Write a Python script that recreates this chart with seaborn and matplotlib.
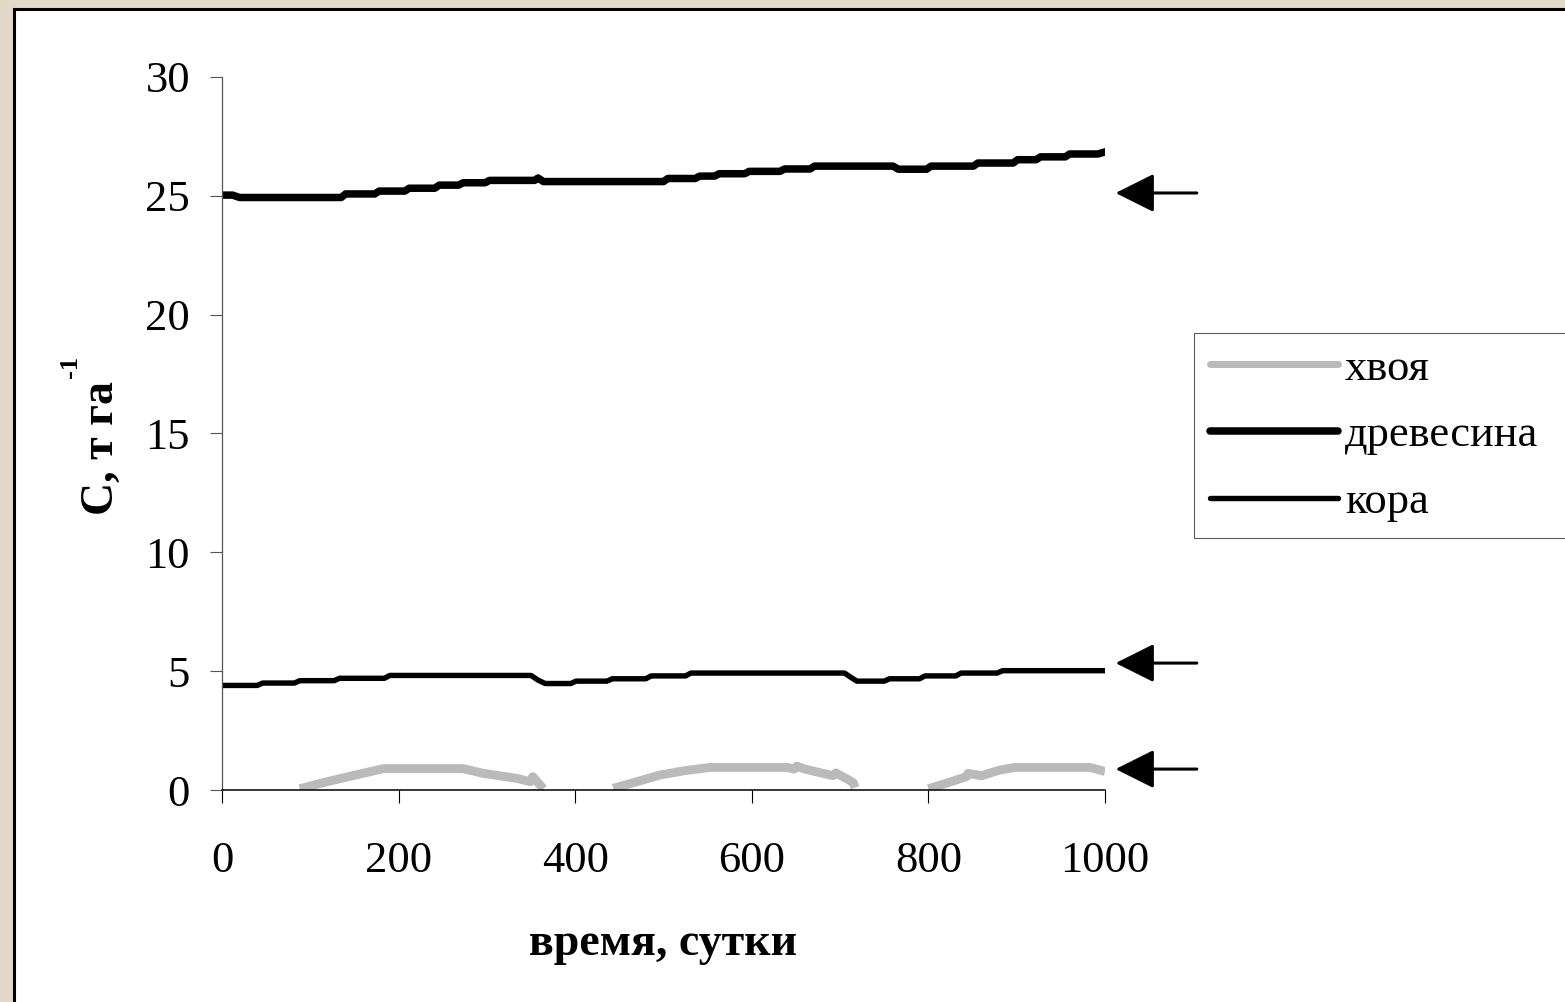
import numpy as np
import pandas as pd
import matplotlib
matplotlib.use('Agg')
import matplotlib.pyplot as plt
from matplotlib.lines import Line2D
from matplotlib.patches import Rectangle
import seaborn as sns

# wood (древесина), t/ha
wood_days = [0, 12, 20, 135, 140, 173, 178, 207, 212, 241, 246, 268, 273, 298, 303, 354, 358, 364,
             500, 505, 536, 541, 558, 563, 592, 597, 632, 637, 666, 671, 760, 766, 798, 803,
             851, 856, 896, 901, 922, 927, 955, 960, 992, 1000]
wood_vals = [25.03, 25.03, 24.93, 24.93, 25.08, 25.08, 25.2, 25.2, 25.32, 25.32, 25.45, 25.45, 25.55, 25.55,
             25.65, 25.65, 25.75, 25.6, 25.6, 25.73, 25.73, 25.83, 25.83, 25.93, 25.93, 26.03, 26.03, 26.13,
             26.13, 26.25, 26.25, 26.12, 26.12, 26.25, 26.25, 26.38, 26.38, 26.52, 26.52, 26.64, 26.64,
             26.76, 26.76, 26.85]

# bark (кора)
bark_days = [0, 40, 46, 82, 88, 127, 133, 184, 190, 350, 358, 366, 395, 401, 436, 442, 480, 486,
             525, 531, 705, 713, 719, 750, 756, 790, 796, 831, 837, 878, 884, 1000]
bark_vals = [4.4, 4.4, 4.5, 4.5, 4.6, 4.6, 4.7, 4.7, 4.82, 4.82, 4.62, 4.48, 4.48, 4.58, 4.58, 4.68,
             4.68, 4.8, 4.8, 4.92, 4.92, 4.72, 4.58, 4.58, 4.68, 4.68, 4.8, 4.8, 4.92, 4.92, 5.02, 5.02]

# needles (хвоя), three seasonal cycles
needle_days = [88, 119, 150, 183, 273, 296, 334, 349, 352, 358, 364,
               443, 470, 496, 525, 553, 640, 648, 651, 660, 692, 695, 710, 715, 717,
               800, 820, 843, 845, 860, 881, 898, 983, 1000]
needle_vals = [0.05, 0.35, 0.62, 0.9, 0.9, 0.7, 0.49, 0.35, 0.56, 0.3, 0.05,
               0.07, 0.35, 0.63, 0.82, 0.95, 0.95, 0.88, 1.0, 0.88, 0.6, 0.72, 0.42, 0.3, 0.1,
               0.05, 0.28, 0.56, 0.7, 0.6, 0.84, 0.95, 0.95, 0.78]
needle_cycle = [1] * 11 + [2] * 14 + [3] * 9

arrow_levels = [25.12, 5.34, 0.88]
legend_labels = ['хвоя', 'древесина', 'кора']

wood = pd.DataFrame({'day': wood_days, 'C': wood_vals})
bark = pd.DataFrame({'day': bark_days, 'C': bark_vals})
needles = pd.DataFrame({'day': needle_days, 'C': needle_vals, 'cycle': needle_cycle})

sns.set_style('white')
plt.rcParams['font.family'] = ['Liberation Serif', 'DejaVu Serif']
for k in ['text.color', 'axes.labelcolor', 'xtick.color', 'ytick.color']:
    plt.rcParams[k] = 'black'

fig = plt.figure(figsize=(15.65, 10.02), dpi=100, facecolor='#e2d8c8')
# white panel with black frame
fig.patches.append(Rectangle((13.5 / 1565, -0.5), 2, 1.5 - 8.5 / 1002, transform=fig.transFigure,
                             facecolor='white', edgecolor='black', lw=2.2, zorder=-5))

ax = fig.add_axes([222 / 1565, 1 - 790 / 1002, 883 / 1565, 713 / 1002])
ax.set_facecolor('none')

needle_color = '#bababa'
sns.lineplot(data=needles, x='day', y='C', units='cycle', estimator=None, color=needle_color,
             lw=6.4, ax=ax, solid_capstyle='butt')
sns.lineplot(data=wood, x='day', y='C', color='black', lw=5.4, ax=ax,
             solid_capstyle='round', solid_joinstyle='round')
sns.lineplot(data=bark, x='day', y='C', color='black', lw=3.9, ax=ax,
             solid_capstyle='round', solid_joinstyle='round')

ax.set_xlim(0, 1000)
ax.set_ylim(0, 30)
ax.set_xticks([0, 200, 400, 600, 800, 1000])
ax.set_yticks([0, 5, 10, 15, 20, 25, 30])
ax.tick_params(axis='both', direction='out', length=9, width=0.8, colors='black',
               labelsize=32, bottom=True, left=True)
ax.tick_params(axis='x', pad=28)
ax.tick_params(axis='y', pad=14, color='#555555')
for s in ['top', 'right']:
    ax.spines[s].set_visible(False)
ax.spines['left'].set_color('#555555')
ax.spines['left'].set_linewidth(0.9)
ax.spines['bottom'].set_color('black')
ax.spines['bottom'].set_linewidth(1.1)

ax.set_xlabel('время, сутки', fontsize=33, fontweight='bold', labelpad=30)
ax.set_ylabel('C, т га', fontsize=33, fontweight='bold')
ax.yaxis.set_label_coords(-0.112, 0.48)
# superscript of the unit
ax.text(-0.172, 0.593, '-1', transform=ax.transAxes, rotation=90, fontsize=19, fontweight='bold',
        ha='center', va='center')

for y in arrow_levels:
    ax.annotate('', xy=(1012, y), xytext=(1104, y), xycoords='data', annotation_clip=False,
                arrowprops=dict(arrowstyle='-|>,head_length=1.2,head_width=0.6', mutation_scale=20,
                                lw=2.2, color='black', shrinkA=0, shrinkB=0))

handles = [Line2D([], [], color=needle_color, lw=5),
           Line2D([], [], color='black', lw=5.4, solid_capstyle='round'),
           Line2D([], [], color='black', lw=3.9, solid_capstyle='round')]
# legend box runs past the right edge of the picture, as in the original slide
leg = fig.legend(handles, legend_labels, loc='upper left',
                 bbox_to_anchor=(1194 / 1565, 1 - 333 / 1002, 390 / 1565, 0), mode='expand',
                 fontsize=32, frameon=True, fancybox=False, handlelength=2.9, handletextpad=0.15,
                 borderpad=0.35, labelspacing=0.6, borderaxespad=0)
leg.get_frame().set_edgecolor('#333333')
leg.get_frame().set_linewidth(0.8)

fig.savefig('out.png', dpi=100, facecolor=fig.get_facecolor())
